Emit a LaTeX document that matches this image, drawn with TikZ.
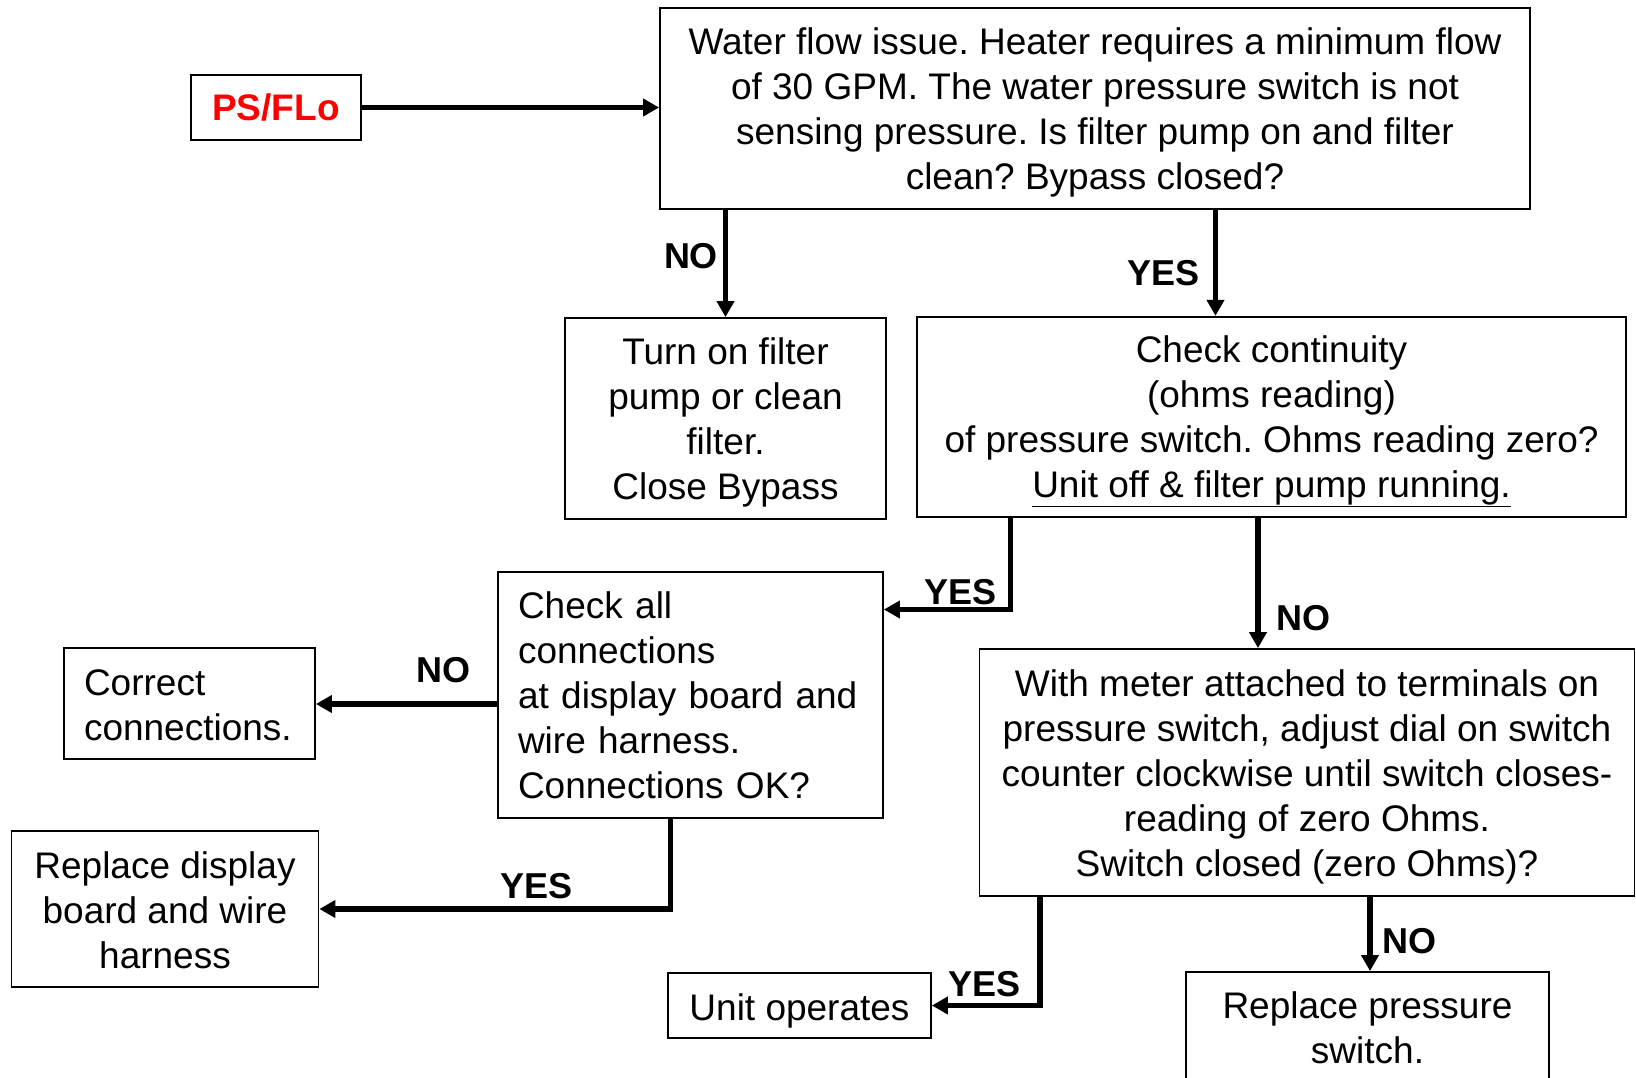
\documentclass[tikz,border=0pt]{standalone}
\usepackage{fontspec}
\setmainfont{Liberation Sans}
\usetikzlibrary{arrows.meta}
\definecolor{psred}{RGB}{255,0,0}
\frenchspacing
\begin{document}
\begin{tikzpicture}[x=1pt,y=-1pt,
  frame/.style={draw, line width=1.8pt, inner sep=0pt},
  txt/.style={inner sep=0pt, font=\fontsize{37}{45}\selectfont, align=center},
  ltxt/.style={inner sep=0pt, font=\fontsize{37}{45}\selectfont, align=left},
  conn/.style={line width=5.3pt, -{Triangle[length=16pt,width=17pt]}},
  lab/.style={font=\bfseries\fontsize{36}{40}\selectfont, inner sep=0pt}]
\useasboundingbox (0,0) rectangle (1636,1078);
\fill[white] (0,0) rectangle (1636,1078);

% frames
\node[frame, minimum width=170pt, minimum height=65pt] (ps) at (276,107.5) {};
\node[frame, minimum width=870pt, minimum height=201pt] (top) at (1095,108.5) {};
\node[frame, minimum width=321pt, minimum height=201pt] (turnon) at (725.5,418.5) {};
\node[frame, minimum width=709pt, minimum height=200.5pt] (cc) at (1271.5,417) {};
\node[frame, minimum width=385pt, minimum height=246pt] (checkall) at (690.5,695) {};
\node[frame, minimum width=251pt, minimum height=111pt] (correct) at (189.5,703.5) {};
\node[frame, minimum width=307pt, minimum height=156pt] (rd) at (165,909) {};
\node[frame, minimum width=655pt, minimum height=247pt] (wm) at (1307,772.5) {};
\node[frame, minimum width=263pt, minimum height=65pt] (unit) at (799.5,1005.5) {};
\node[frame, minimum width=363pt, minimum height=111pt] (rp) at (1367.5,1027.5) {};

% texts
\node[txt, text=psred, font=\bfseries\fontsize{37}{45}\selectfont] (pst) at (ps.center) {PS/FLo};
\node[txt] (topt) at ([yshift=-4pt]top.center)
  {Water flow issue. Heater requires a minimum flow\\of 30 GPM. The water pressure switch is not\\sensing pressure. Is filter pump on and filter\\clean? Bypass closed?};
\node[txt] (turnont) at ([yshift=-4pt]turnon.center)
  {Turn on filter\\pump or clean\\filter.\\Close Bypass};
\node[txt] (cct) at ([yshift=-4.5pt]cc.center)
  {Check continuity\\(ohms reading)\\of pressure switch. Ohms reading zero?\\\underline{Unit off \& filter pump running.}};
\node[ltxt, text width=345pt] (checkallt) at (checkall.center)
  {Check all\\connections\\at display board and\\wire harness.\\Connections OK?};
\node[ltxt, text width=211pt] (correctt) at ([yshift=-2pt]correct.center)
  {Correct\\connections.};
\node[txt] (rdt) at ([yshift=-1pt]rd.center)
  {Replace display\\board and wire\\harness};
\node[txt] (wmt) at ([yshift=-4pt]wm.center)
  {With meter attached to terminals on\\pressure switch, adjust dial on switch\\counter clockwise until switch closes-\\reading of zero Ohms.\\Switch closed (zero Ohms)?};
\node[txt] (unitt) at ([yshift=-5pt]unit.center) {Unit operates};
\node[txt] (rpt) at (rp.center) {Replace pressure\\switch.};

\coordinate (xa) at (1215.5,0);
\coordinate (xb) at (1010.5,609.5);
\coordinate (xc) at (1258,0);
\coordinate (yd) at (0,704);
\coordinate (xe) at (670.5,0);
\coordinate (xf) at (1040,0);
\coordinate (xg) at (1370,0);

\draw[conn] (ps.east) -- (ps.east -| top.west);
\draw[conn] (turnon.north |- top.south) -- (turnon.north);
\draw[conn] (top.south -| xa) -- (cc.north -| xa);
\draw[conn] (cc.south -| xb) |- (checkall.east |- xb);
\draw[conn] (cc.south -| xc) -- (wm.north -| xc);
\draw[conn] (checkall.west |- yd) -- (correct.east |- yd);
\draw[conn] (checkall.south -| xe) |- (rd.east);
\draw[conn] (wm.south -| xf) |- (unit.east);
\draw[conn] (wm.south -| xg) -- (rp.north -| xg);

\node[lab] (l1) at (691,256.5) {NO};
\node[lab] (l2) at (1163.5,273) {YES};
\node[lab] (l3) at (960.5,592) {YES};
\node[lab] (l4) at (1303,618) {NO};
\node[lab] (l5) at (443.5,670) {NO};
\node[lab] (l6) at (536.5,886) {YES};
\node[lab] (l7) at (984.5,984) {YES};
\node[lab] (l8) at (1409.5,941) {NO};
\end{tikzpicture}
\end{document}
